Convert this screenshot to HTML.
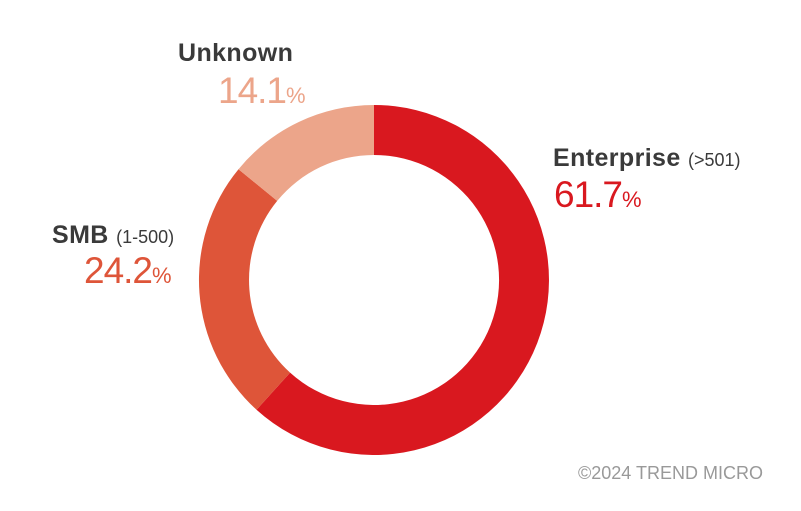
<!DOCTYPE html>
<html><head><style>
html,body{margin:0;padding:0;background:#fff;}
svg{display:block;}
text{font-family:"Liberation Sans",Arial,sans-serif;}
</style></head><body>
<svg width="801" height="511" viewBox="0 0 801 511">
<path d="M374,105 A175,175 0 1 1 256.5,409.7 L290.1,372.6 A125,125 0 1 0 374,155 Z" fill="#d9181f"/>
<path d="M256.5,409.7 A175,175 0 0 1 238.5,169.2 L277.2,200.9 A125,125 0 0 0 290.1,372.6 Z" fill="#de5539"/>
<path d="M238.5,169.2 A175,175 0 0 1 374,105 L374,155 A125,125 0 0 0 277.2,200.9 Z" fill="#eca58a"/>
<text x="553" y="166" font-size="25" font-weight="bold" fill="#3a3a3a" letter-spacing="0.4">Enterprise <tspan font-size="18" font-weight="normal" letter-spacing="0">(&gt;501)</tspan></text>
<text x="554" y="207" font-size="37" fill="#d9181f" letter-spacing="-1">61.7<tspan font-size="22" letter-spacing="0">%</tspan></text>
<text x="178" y="61" font-size="25" font-weight="bold" fill="#3a3a3a" letter-spacing="0.4">Unknown</text>
<text x="218" y="103" font-size="37" fill="#eca58a" letter-spacing="-1">14.1<tspan font-size="22" letter-spacing="0">%</tspan></text>
<text x="52" y="243" font-size="25" font-weight="bold" fill="#3a3a3a" letter-spacing="0.4">SMB <tspan font-size="18" font-weight="normal" letter-spacing="0">(1-500)</tspan></text>
<text x="84" y="283" font-size="37" fill="#de5539" letter-spacing="-1">24.2<tspan font-size="22" letter-spacing="0">%</tspan></text>
<text x="578" y="479" font-size="18" fill="#999">©2024 TREND MICRO</text>
</svg>
</body></html>
